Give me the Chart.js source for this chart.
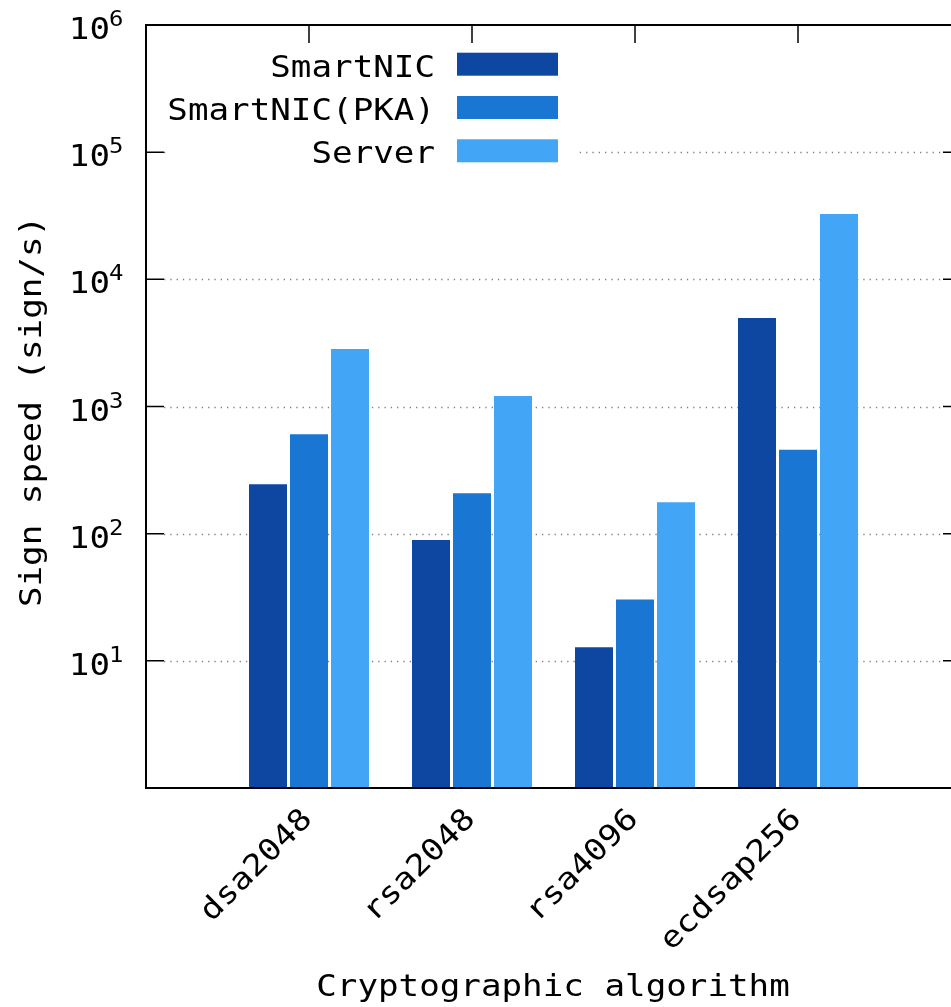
<!DOCTYPE html>
<html>
<head>
<meta charset="utf-8">
<script src="https://cdn.jsdelivr.net/npm/chart.js@4"></script>
<style>
  html, body { margin: 0; padding: 0; background: #fff; overflow: hidden; }
  #wrap { width: 1000px; height: 1007px; }
</style>
</head>
<body>
<div id="wrap"><canvas id="c" width="1000" height="1007"></canvas></div>
<script>
// ---- data ----
const categories = ['dsa2048', 'rsa2048', 'rsa4096', 'ecdsap256'];
const seriesNames = ['SmartNIC', 'SmartNIC(PKA)', 'Server'];
const smartnic = [245, 89, 12.8, 4970];
const smartnicPKA = [606, 208, 30.4, 456];
const server = [2830, 1210, 177, 32700];
const yTickExponents = [1, 2, 3, 4, 5, 6];
const xTitle = 'Cryptographic algorithm';
const yTitle = 'Sign speed (sign/s)';

const colors = ['#0D47A1', '#1976D2', '#42A5F5'];
const FONT = '"DejaVu Sans Mono", monospace';
const SX = 1.14;   // horizontal glyph stretch
const TICK = 18;

function toPoints(vals) { return vals.map((v, i) => ({ x: i + 1, y: v })); }

function txt(ctx, s, x, y, opt) {
  ctx.save();
  ctx.translate(x, y);
  if (opt.angle) ctx.rotate(opt.angle);
  ctx.scale(SX, 1);
  ctx.font = (opt.size || 30) + 'px ' + FONT;
  ctx.fillStyle = '#000';
  ctx.textAlign = opt.align || 'left';
  ctx.textBaseline = opt.baseline || 'alphabetic';
  ctx.fillText(s, 0, 0);
  ctx.restore();
}

const deco = {
  id: 'deco',
  beforeDatasetsDraw(chart) {
    const { ctx, chartArea: a, scales: { y } } = chart;
    ctx.save();
    ctx.strokeStyle = '#808080';
    ctx.lineWidth = 1.3;
    ctx.setLineDash([1.3, 5]);
    yTickExponents.forEach(e => {
      const py = Math.round(y.getPixelForValue(Math.pow(10, e))) + 0.5;
      if (py <= a.top + 2) return;
      ctx.beginPath();
      ctx.moveTo(a.left + TICK, py);
      ctx.lineTo(a.right - TICK, py);
      ctx.stroke();
    });
    ctx.restore();
    // legend background
    ctx.save();
    ctx.fillStyle = '#fff';
    ctx.fillRect(166, 38, 412, 138);
    ctx.restore();
  },
  afterDatasetsDraw(chart) {
    const { ctx, chartArea: a, scales: { x, y } } = chart;
    ctx.save();
    // border
    ctx.strokeStyle = '#000';
    ctx.lineWidth = 2;
    ctx.strokeRect(a.left, a.top, a.right - a.left, a.bottom - a.top);
    // y ticks (both sides, inward)
    ctx.lineWidth = 1.5;
    yTickExponents.forEach(e => {
      const py = y.getPixelForValue(Math.pow(10, e));
      ctx.beginPath();
      ctx.moveTo(a.left, py); ctx.lineTo(a.left + TICK, py);
      ctx.moveTo(a.right, py); ctx.lineTo(a.right - TICK, py);
      ctx.stroke();
    });
    // top mirror ticks
    categories.forEach((c, i) => {
      const px = x.getPixelForValue(i + 1);
      ctx.beginPath();
      ctx.moveTo(px, a.top); ctx.lineTo(px, a.top + TICK);
      ctx.stroke();
    });
    ctx.restore();

    // y tick labels 10^n
    yTickExponents.forEach(e => {
      const py = y.getPixelForValue(Math.pow(10, e));
      txt(ctx, '10', 110, py + 14, { align: 'right', size: 30 });
      txt(ctx, String(e), 109, py + 1, { align: 'left', size: 21 });
    });

    // x tick labels rotated 45
    categories.forEach((c, i) => {
      const px = x.getPixelForValue(i + 1);
      txt(ctx, c, px - 1, 815, { angle: -Math.PI / 4, align: 'right', baseline: 'middle', size: 30 });
    });

    // axis titles
    txt(ctx, xTitle, 553, 996, { align: 'center', size: 30 });
    txt(ctx, yTitle, 41, 411.5, { angle: -Math.PI / 2, align: 'center', size: 30 });

    // legend
    const rowY = [64.2, 107.5, 150.8];
    chart.data.datasets.forEach((ds, i) => {
      txt(ctx, ds.label, 435, rowY[i] + 12.5, { align: 'right', size: 30 });
      ctx.save();
      ctx.fillStyle = ds.backgroundColor;
      ctx.fillRect(457, rowY[i] - 11.5, 101, 23);
      ctx.restore();
    });
  }
};

const ds = [smartnic, smartnicPKA, server].map((vals, i) => ({
  label: seriesNames[i],
  data: toPoints(vals),
  backgroundColor: colors[i],
  borderWidth: 0,
  categoryPercentage: 0.7546,
  barPercentage: 0.927
}));

new Chart(document.getElementById('c'), {
  type: 'bar',
  data: { datasets: ds },
  options: {
    responsive: false,
    animation: false,
    layout: { padding: { left: 146, top: 25, right: 39, bottom: 219 } },
    scales: {
      x: { type: 'linear', min: 0, max: 5, offset: false, display: false, ticks: { stepSize: 1 } },
      y: { type: 'logarithmic', min: 1, max: 1000000, display: false }
    },
    plugins: { legend: { display: false }, tooltip: { enabled: false } }
  },
  plugins: [deco]
});
</script>
</body>
</html>
